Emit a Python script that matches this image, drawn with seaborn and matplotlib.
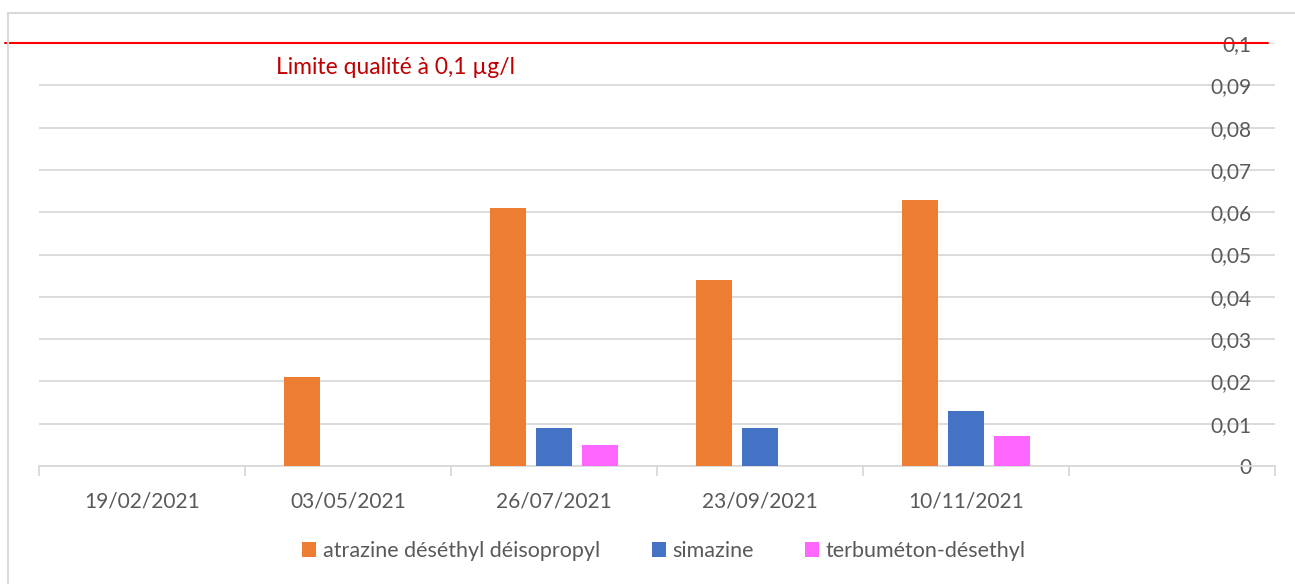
import matplotlib
matplotlib.use("Agg")
from matplotlib import ticker
from matplotlib.patches import Rectangle
from pandas import DataFrame
import seaborn as sns
import matplotlib.pyplot as plt


dates = ["19/02/2021", "03/05/2021", "26/07/2021", "23/09/2021", "10/11/2021"]
series_names = ["atrazine déséthyl déisopropyl", "simazine", "terbuméton-désethyl"]
atrazine = [0.0, 0.021, 0.061, 0.044, 0.063]
simazine = [0.0, 0.0, 0.009, 0.009, 0.013]
terbumeton = [0.0, 0.0, 0.005, 0.0, 0.007]
colors = ["#ED7D31", "#4472C4", "#FF66FF"]
limit = 0.1
limit_label = "Limite qualité à 0,1 µg/l"
y_ticks = [0, 0.01, 0.02, 0.03, 0.04, 0.05, 0.06, 0.07, 0.08, 0.09, 0.1]

GRID = "#D9D9D9"
TEXT = "#595959"
FONT = ["Lato", "DejaVu Sans"]


def comma_fmt(value, _pos):
    s = f"{value:.2f}".rstrip("0").rstrip(".")
    return s.replace(".", ",")


# long table for seaborn
rows = []
for name, values in zip(series_names, [atrazine, simazine, terbumeton]):
    for d, v in zip(dates, values):
        rows.append({"date": d, "substance": name, "value": v})
df = DataFrame(rows)

sns.set_theme(style="white")
plt.rcParams["font.family"] = FONT

fig = plt.figure(figsize=(12.95, 5.84), dpi=100)
ax = fig.add_axes([39 / 1295, 1 - 466 / 584, (1275 - 39) / 1295, (466 - 43) / 584])

order = dates + [""]
sns.barplot(
    data=df, x="date", y="value", hue="substance", order=order,
    hue_order=series_names, palette=colors, width=0.663, gap=0.21,
    linewidth=0, saturation=1, ax=ax, zorder=3,
)

handles, labels = ax.get_legend_handles_labels()
ax.get_legend().remove()

ax.set_xlim(-0.5, 5.5)
ax.set_ylim(0, 0.1)
ax.set_xlabel("")
ax.set_ylabel("")

# y axis: labels right-aligned inside the plot area, over the grid
ax.yaxis.tick_right()
ax.set_yticks(y_ticks)
ax.yaxis.set_major_formatter(ticker.FuncFormatter(comma_fmt))
ax.tick_params(axis="y", length=0, pad=-17, labelsize=15, labelcolor=TEXT)
for lab in ax.get_yticklabels():
    lab.set_horizontalalignment("right")
ax.grid(axis="y", color=GRID, linewidth=1.3, zorder=0)

# x axis: labels centred, tick marks between categories
ax.set_xticks(range(len(order)))
ax.set_xticklabels(order)
ax.xaxis.set_minor_locator(ticker.FixedLocator([i - 0.5 for i in range(len(order) + 1)]))
ax.tick_params(axis="x", which="major", length=0, pad=18, labelsize=15, labelcolor=TEXT)
ax.tick_params(axis="x", which="minor", bottom=True, length=7, width=1.3, color=GRID)

for side in ["top", "left", "right"]:
    ax.spines[side].set_visible(False)
ax.spines["bottom"].set_color(GRID)
ax.spines["bottom"].set_linewidth(1.3)

# quality limit line, runs a bit past the plot on the left
line = ax.axhline(limit, xmin=(5 - 39) / 1236, xmax=(1268 - 39) / 1236,
                  color="#FF0000", linewidth=1.5, zorder=4)
line.set_clip_on(False)
ax.text(0.65, 0.0941, limit_label, color="#C00000", fontsize=16.5,
        ha="left", va="center", family=FONT)

fig.legend(
    handles, labels, loc="center", bbox_to_anchor=(664 / 1295, 1 - 551 / 584),
    ncol=3, frameon=False, fontsize=15.5, labelcolor=TEXT,
    handlelength=0.65, handleheight=0.65, handletextpad=0.3, columnspacing=2.4,
)

# chart border
fig.patches.append(Rectangle((8 / 1295, -0.1), 1.2, 1.1 - 13 / 584, fill=False,
                             edgecolor=GRID, linewidth=1.5, transform=fig.transFigure))

fig.savefig("out.png", dpi=100, facecolor="white")
